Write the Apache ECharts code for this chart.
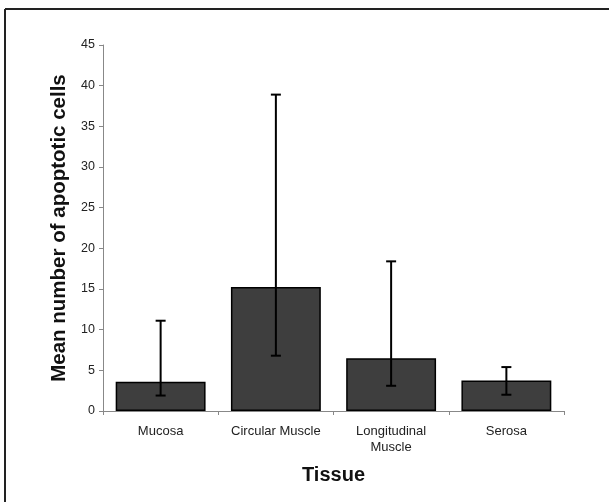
<!DOCTYPE html>
<html><head><meta charset="utf-8">
<script src="https://cdn.jsdelivr.net/npm/echarts@6/dist/echarts.min.js"></script>
<style>html,body{margin:0;padding:0;background:#fff}#c{width:609px;height:502px}</style>
</head><body><div id="c"></div>
<script>
const categories = ['Mucosa', 'Circular Muscle', 'Longitudinal\nMuscle', 'Serosa'];
const means = [3.6, 15.25, 6.5, 3.75];
const errLow = [1.9, 6.8, 3.1, 2.0];
const errHigh = [11.1, 38.9, 18.4, 5.4];
const yTicks = [0, 5, 10, 15, 20, 25, 30, 35, 40, 45];

const chart = echarts.init(document.getElementById('c'));
const font = 'Liberation Sans, Arial, sans-serif';
chart.setOption({
  animation: false,
  backgroundColor: '#fff',
  grid: { left: 103, right: 45, top: 45, bottom: 91 },
  graphic: [
    { type: 'line', shape: { x1: 5, y1: 9, x2: 609, y2: 9 }, style: { stroke: '#222', lineWidth: 2 } },
    { type: 'line', shape: { x1: 5, y1: 9, x2: 5, y2: 502 }, style: { stroke: '#222', lineWidth: 2 } }
  ],
  xAxis: {
    type: 'category', data: categories,
    name: 'Tissue', nameLocation: 'middle', nameGap: 54,
    nameTextStyle: { fontFamily: font, fontWeight: 'bold', fontSize: 20, color: '#111' },
    axisLine: { lineStyle: { color: '#888', width: 1 } },
    axisTick: { show: true, length: 4, interval: 0, lineStyle: { color: '#888' } },
    axisLabel: { fontFamily: font, fontSize: 13, color: '#222', margin: 12, lineHeight: 16, interval: 0 }
  },
  yAxis: {
    type: 'value', min: yTicks[0], max: yTicks[yTicks.length - 1], interval: 5,
    name: 'Mean number of apoptotic cells', nameLocation: 'middle', nameGap: 33,
    nameTextStyle: { fontFamily: font, fontWeight: 'bold', fontSize: 20.5, color: '#111' },
    axisLine: { show: true, lineStyle: { color: '#888', width: 1 } },
    axisTick: { show: true, length: 4, lineStyle: { color: '#888' } },
    splitLine: { show: false },
    axisLabel: { fontFamily: font, fontSize: 12.5, color: '#222', margin: 8 }
  },
  series: [
    {
      type: 'bar', data: means, barCategoryGap: '22%',
      itemStyle: { color: '#3e3e3e', borderColor: '#000', borderWidth: 1.5 }
    },
    {
      type: 'custom',
      data: categories.map((c, i) => [i, errLow[i], errHigh[i]]),
      renderItem: function (params, api) {
        const lo = api.coord([api.value(0), api.value(1)]);
        const hi = api.coord([api.value(0), api.value(2)]);
        const hw = 5;
        const st = { stroke: '#000', lineWidth: 2 };
        return {
          type: 'group', children: [
            { type: 'line', shape: { x1: lo[0], y1: lo[1], x2: hi[0], y2: hi[1] }, style: st },
            { type: 'line', shape: { x1: hi[0] - hw, y1: hi[1], x2: hi[0] + hw, y2: hi[1] }, style: st },
            { type: 'line', shape: { x1: lo[0] - hw, y1: lo[1], x2: lo[0] + hw, y2: lo[1] }, style: st }
          ]
        };
      },
      z: 10
    }
  ]
});
</script></body></html>
